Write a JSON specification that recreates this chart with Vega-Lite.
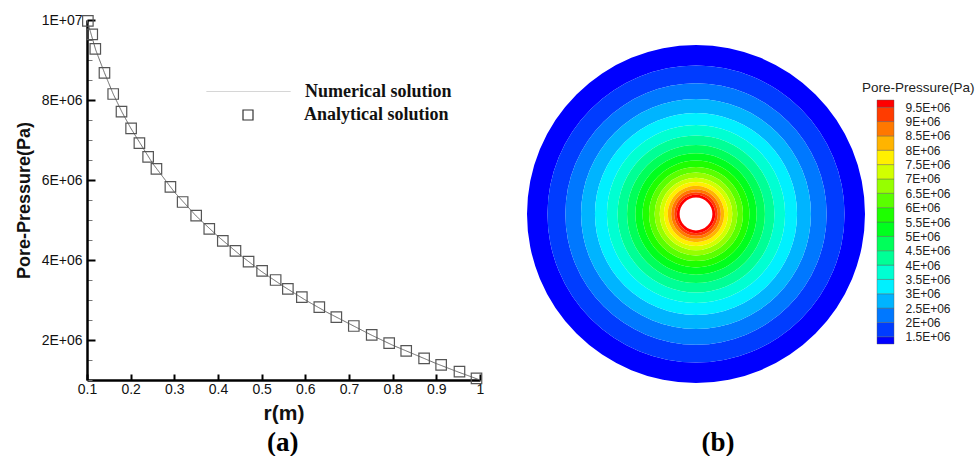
{
  "$schema": "https://vega.github.io/schema/vega-lite/v6.json",
  "padding": {"left": 15, "top": 13, "right": 0, "bottom": 0},
  "background": "white",
  "config": {"view": {"stroke": null}, "font": "Liberation Sans", "axis": {"grid": false}},
  "datasets": {
    "analytical": [
      {"r": 0.102, "p": 9980000}, {"r": 0.112, "p": 9640000}, {"r": 0.119, "p": 9280000},
      {"r": 0.140, "p": 8680000}, {"r": 0.160, "p": 8150000}, {"r": 0.179, "p": 7710000},
      {"r": 0.201, "p": 7290000}, {"r": 0.220, "p": 6920000}, {"r": 0.240, "p": 6580000},
      {"r": 0.259, "p": 6280000}, {"r": 0.291, "p": 5830000}, {"r": 0.319, "p": 5450000},
      {"r": 0.350, "p": 5110000}, {"r": 0.380, "p": 4780000}, {"r": 0.411, "p": 4480000},
      {"r": 0.440, "p": 4230000}, {"r": 0.470, "p": 3960000}, {"r": 0.501, "p": 3730000},
      {"r": 0.532, "p": 3500000}, {"r": 0.560, "p": 3280000}, {"r": 0.592, "p": 3070000},
      {"r": 0.632, "p": 2820000}, {"r": 0.671, "p": 2570000}, {"r": 0.711, "p": 2350000},
      {"r": 0.752, "p": 2130000}, {"r": 0.792, "p": 1920000}, {"r": 0.831, "p": 1730000},
      {"r": 0.872, "p": 1540000}, {"r": 0.911, "p": 1380000}, {"r": 0.953, "p": 1210000},
      {"r": 0.992, "p": 1040000}
    ],
    "numerical": [
      {"r": 0.10, "p": 10000000}, {"r": 0.12, "p": 9250000}, {"r": 0.14, "p": 8680000},
      {"r": 0.16, "p": 8150000}, {"r": 0.18, "p": 7700000}, {"r": 0.20, "p": 7300000},
      {"r": 0.25, "p": 6420000}, {"r": 0.30, "p": 5700000}, {"r": 0.35, "p": 5100000},
      {"r": 0.40, "p": 4590000}, {"r": 0.45, "p": 4130000}, {"r": 0.50, "p": 3710000},
      {"r": 0.55, "p": 3340000}, {"r": 0.60, "p": 3000000}, {"r": 0.65, "p": 2690000},
      {"r": 0.70, "p": 2410000}, {"r": 0.75, "p": 2130000}, {"r": 0.80, "p": 1870000},
      {"r": 0.85, "p": 1640000}, {"r": 0.90, "p": 1410000}, {"r": 0.95, "p": 1200000},
      {"r": 1.00, "p": 1000000}
    ],
    "rings": [
      {"p_lo": 1000000, "p_hi": 1500000, "r_in": 0.879, "r_out": 1.0},
      {"p_lo": 1500000, "p_hi": 2000000, "r_in": 0.773, "r_out": 0.879},
      {"p_lo": 2000000, "p_hi": 2500000, "r_in": 0.68, "r_out": 0.773},
      {"p_lo": 2500000, "p_hi": 3000000, "r_in": 0.598, "r_out": 0.68},
      {"p_lo": 3000000, "p_hi": 3500000, "r_in": 0.527, "r_out": 0.598},
      {"p_lo": 3500000, "p_hi": 4000000, "r_in": 0.464, "r_out": 0.527},
      {"p_lo": 4000000, "p_hi": 4500000, "r_in": 0.408, "r_out": 0.464},
      {"p_lo": 4500000, "p_hi": 5000000, "r_in": 0.359, "r_out": 0.408},
      {"p_lo": 5000000, "p_hi": 5500000, "r_in": 0.316, "r_out": 0.359},
      {"p_lo": 5500000, "p_hi": 6000000, "r_in": 0.278, "r_out": 0.316},
      {"p_lo": 6000000, "p_hi": 6500000, "r_in": 0.245, "r_out": 0.278},
      {"p_lo": 6500000, "p_hi": 7000000, "r_in": 0.215, "r_out": 0.245},
      {"p_lo": 7000000, "p_hi": 7500000, "r_in": 0.19, "r_out": 0.215},
      {"p_lo": 7500000, "p_hi": 8000000, "r_in": 0.167, "r_out": 0.19},
      {"p_lo": 8000000, "p_hi": 8500000, "r_in": 0.147, "r_out": 0.167},
      {"p_lo": 8500000, "p_hi": 9000000, "r_in": 0.129, "r_out": 0.147},
      {"p_lo": 9000000, "p_hi": 9500000, "r_in": 0.114, "r_out": 0.129},
      {"p_lo": 9500000, "p_hi": 10000000, "r_in": 0.097, "r_out": 0.114}
    ],
    "colorbar": [
      {"p_lo": 1250000, "p_hi": 1500000}, {"p_lo": 1500000, "p_hi": 2000000},
      {"p_lo": 2000000, "p_hi": 2500000}, {"p_lo": 2500000, "p_hi": 3000000},
      {"p_lo": 3000000, "p_hi": 3500000}, {"p_lo": 3500000, "p_hi": 4000000},
      {"p_lo": 4000000, "p_hi": 4500000}, {"p_lo": 4500000, "p_hi": 5000000},
      {"p_lo": 5000000, "p_hi": 5500000}, {"p_lo": 5500000, "p_hi": 6000000},
      {"p_lo": 6000000, "p_hi": 6500000}, {"p_lo": 6500000, "p_hi": 7000000},
      {"p_lo": 7000000, "p_hi": 7500000}, {"p_lo": 7500000, "p_hi": 8000000},
      {"p_lo": 8000000, "p_hi": 8500000}, {"p_lo": 8500000, "p_hi": 9000000},
      {"p_lo": 9000000, "p_hi": 9500000}, {"p_lo": 9500000, "p_hi": 9750000}
    ]
  },
  "bounds": "flush",
  "spacing": 47,
  "hconcat": [
    {
      "width": 393,
      "height": 360,
      "title": {"text": "(a)", "orient": "bottom", "frame": "bounds", "anchor": "middle", "offset": 6, "dx": 33, "font": "Liberation Serif", "fontSize": 27, "fontWeight": "bold", "color": "#000"},
      "layer": [
        {
          "data": {"name": "numerical"},
          "mark": {"type": "line", "color": "#666", "strokeWidth": 1},
          "encoding": {
            "x": {"field": "r", "type": "quantitative", "scale": {"domain": [0.1, 1], "nice": false, "zero": false},
              "axis": {"values": [0.1, 0.2, 0.3, 0.4, 0.5, 0.6, 0.7, 0.8, 0.9, 1], "format": "~g", "labelFlush": false,
                "tickSize": -6, "tickWidth": 2, "tickColor": "#000", "domainWidth": 2.5, "domainColor": "#000",
                "labelFontSize": 14, "labelPadding": 8.5, "labelColor": "#111",
                "title": "r(m)", "titleFontSize": 21, "titleFontWeight": "bold", "titleColor": "#111", "titlePadding": 6}},
            "y": {"field": "p", "type": "quantitative", "scale": {"domain": [1000000, 10000000], "nice": false, "zero": false},
              "axis": {"orient": "left", "values": [1000000, 1500000, 2000000, 2500000, 3000000, 3500000, 4000000, 4500000, 5000000, 5500000, 6000000, 6500000, 7000000, 7500000, 8000000, 8500000, 9000000, 9500000, 10000000],
                "labels": false, "tickSize": -5, "tickColor": "#777", "tickWidth": 1, "domain": false, "title": null}},
            "strokeDash": {"datum": "Numerical solution", "scale": {"range": [[1, 0]]},
              "legend": {"orient": "none", "legendX": 119, "legendY": 29, "title": null, "symbolType": "stroke", "symbolSize": 7056,
                "symbolStrokeColor": "#c8c8c8", "symbolStrokeWidth": 1, "labelFont": "Liberation Serif", "labelFontWeight": "bold",
                "labelFontSize": 18, "labelColor": "#111", "labelOffset": 14}}
          }
        },
        {
          "data": {"name": "analytical"},
          "mark": {"type": "point", "shape": "square", "filled": false, "size": 110, "strokeWidth": 1.2, "color": "#555", "opacity": 1},
          "encoding": {
            "x": {"field": "r", "type": "quantitative"},
            "y": {"field": "p", "type": "quantitative",
              "axis": {"orient": "left", "values": [2000000, 4000000, 6000000, 8000000, 10000000],
                "labelExpr": "datum.value >= 10000000 ? '1E+07' : (datum.value / 1000000) + 'E+06'",
                "tickSize": -8, "tickWidth": 2, "tickColor": "#000", "domain": true, "domainWidth": 2.5, "domainColor": "#000",
                "labelFontSize": 14, "labelPadding": 13, "labelColor": "#111",
                "title": "Pore-Pressure(Pa)", "titleFontSize": 18, "titleFontWeight": "bold", "titleColor": "#111", "titlePadding": 8}},
            "shape": {"datum": "Analytical solution", "scale": {"range": ["square"]},
              "legend": {"orient": "none", "legendX": 152, "legendY": 86, "title": null, "symbolSize": 100,
                "symbolStrokeColor": "#333", "symbolStrokeWidth": 1.2, "symbolFillColor": "transparent",
                "labelFont": "Liberation Serif", "labelFontWeight": "bold", "labelFontSize": 18, "labelColor": "#111", "labelOffset": 47}}
          }
        }
      ],
      "resolve": {"axis": {"y": "independent"}}
    },
    {
      "bounds": "flush",
      "spacing": 12,
      "hconcat": [
        {
          "width": 338,
          "height": 388,
          "data": {"name": "rings"},
          "title": {"text": "(b)", "orient": "bottom", "frame": "group", "anchor": "middle", "offset": 22, "dx": 22, "font": "Liberation Serif", "fontSize": 27, "fontWeight": "bold", "color": "#000"},
          "mark": {"type": "arc", "theta": 0, "theta2": 6.28319},
          "encoding": {
            "radius": {"field": "r_out", "type": "quantitative", "scale": {"type": "linear", "domain": [0, 1], "range": [0, 169], "zero": true}},
            "radius2": {"field": "r_in"},
            "color": {"field": "p_lo", "type": "quantitative",
              "scale": {"type": "threshold",
                "domain": [1500000, 2000000, 2500000, 3000000, 3500000, 4000000, 4500000, 5000000, 5500000, 6000000, 6500000, 7000000, 7500000, 8000000, 8500000, 9000000, 9500000],
                "range": ["#0000ff", "#003cff", "#0078ff", "#00b4ff", "#00f0ff", "#00ffd2", "#00ff96", "#00ff5a", "#00ff1e", "#1eff00", "#5aff00", "#96ff00", "#d2ff00", "#fff000", "#ffb400", "#ff7800", "#ff3c00", "#ff0000"]},
              "legend": null}
          }
        },
        {
          "width": 17,
          "height": 324,
          "data": {"name": "colorbar"},
          "title": {"text": "Pore-Pressure(Pa)", "orient": "top", "anchor": "start", "frame": "group", "offset": 0, "baseline": "middle", "dx": -15, "dy": 81, "font": "Liberation Sans", "fontSize": 13.5, "fontWeight": "normal", "color": "#222"},
          "mark": {"type": "rect", "stroke": "#555", "strokeWidth": 0.4},
          "encoding": {
            "y": {"field": "p_lo", "type": "quantitative", "scale": {"domain": [1250000, 12537000], "nice": false, "zero": false},
              "axis": {"orient": "right", "values": [1500000, 2000000, 2500000, 3000000, 3500000, 4000000, 4500000, 5000000, 5500000, 6000000, 6500000, 7000000, 7500000, 8000000, 8500000, 9000000, 9500000],
                "labelExpr": "(datum.value / 1000000) + 'E+06'", "ticks": false, "tickSize": 0, "domain": false,
                "labelPadding": 11, "labelFontSize": 12, "labelColor": "#222", "title": null}},
            "y2": {"field": "p_hi"},
            "color": {"field": "p_lo", "type": "quantitative",
              "scale": {"type": "threshold",
                "domain": [1500000, 2000000, 2500000, 3000000, 3500000, 4000000, 4500000, 5000000, 5500000, 6000000, 6500000, 7000000, 7500000, 8000000, 8500000, 9000000, 9500000],
                "range": ["#0000ff", "#003cff", "#0078ff", "#00b4ff", "#00f0ff", "#00ffd2", "#00ff96", "#00ff5a", "#00ff1e", "#1eff00", "#5aff00", "#96ff00", "#d2ff00", "#fff000", "#ffb400", "#ff7800", "#ff3c00", "#ff0000"]},
              "legend": null}
          }
        }
      ]
    }
  ]
}
